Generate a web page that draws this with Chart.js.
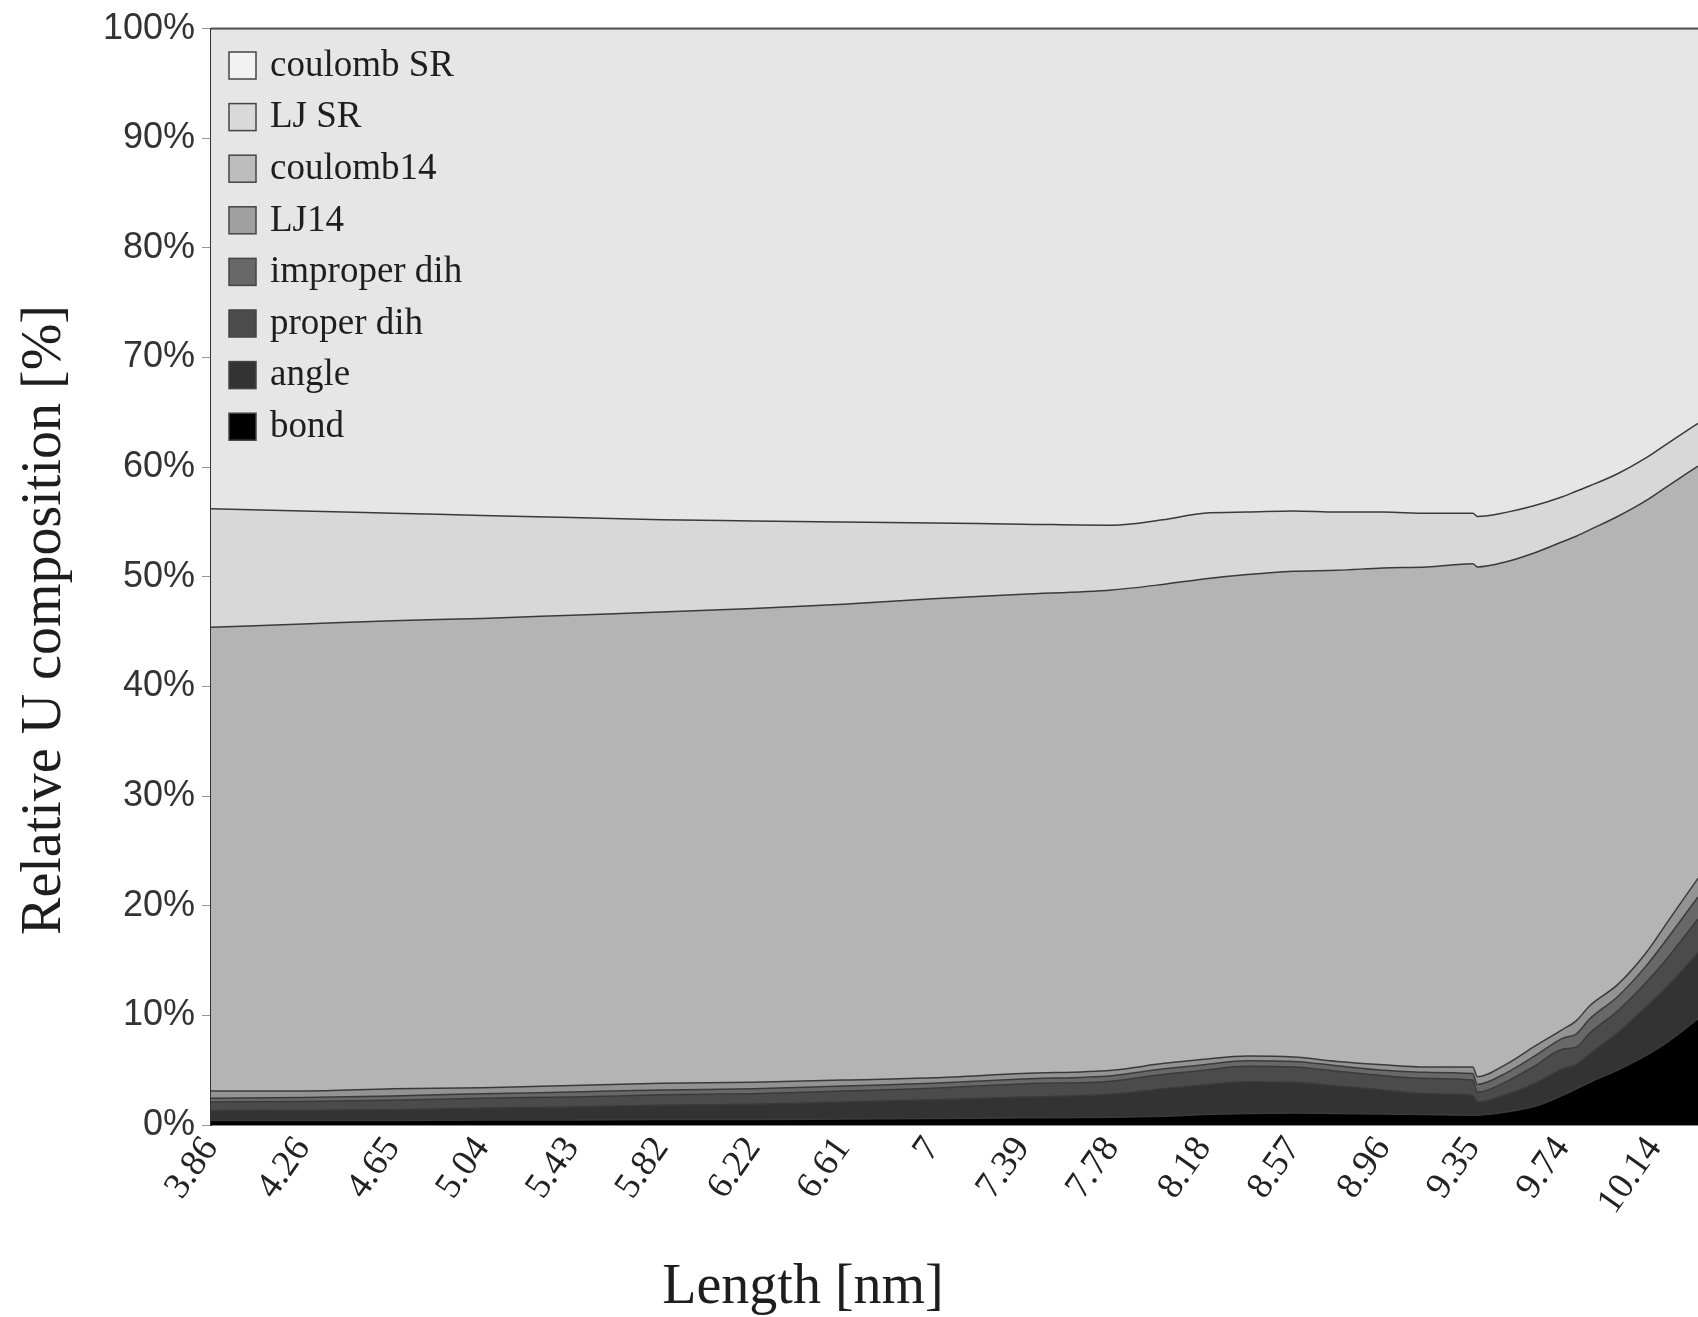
<!DOCTYPE html>
<html><head><meta charset="utf-8">
<script src="https://cdn.jsdelivr.net/npm/chart.js@4/dist/chart.umd.min.js"></script>
<style>html,body{margin:0;padding:0;background:#fff;}canvas{display:block;}</style>
</head><body>
<canvas id="c" width="1698" height="1317"></canvas>
<script>
// ---- data (percent of total potential energy) ----
const lengths    = [3.86, 4.26, 4.65, 5.04, 5.43, 5.82, 6.22, 6.61, 7.0, 7.39, 7.78, 8.0, 8.18, 8.37, 8.57, 8.76, 8.96, 9.15, 9.35, 9.37, 9.5, 9.62, 9.74, 9.8, 9.86, 9.98, 10.1, 10.2, 10.33];
const bond       = [0.4, 0.4, 0.4, 0.45, 0.45, 0.5, 0.5, 0.55, 0.6, 0.65, 0.7, 0.8, 0.95, 1.05, 1.1, 1.05, 1.0, 0.95, 0.9, 0.9, 1.2, 1.7, 2.7, 3.3, 3.9, 5.0, 6.3, 7.6, 9.7];
const angle      = [0.9, 0.95, 1.0, 1.1, 1.2, 1.3, 1.4, 1.55, 1.7, 1.9, 2.1, 2.5, 2.7, 2.9, 2.8, 2.5, 2.2, 1.9, 1.8, 1.2, 1.6, 2.1, 2.4, 2.2, 2.6, 3.4, 4.4, 5.1, 6.0];
const properDih  = [0.8, 0.8, 0.85, 0.9, 0.9, 0.95, 0.95, 1.0, 1.05, 1.2, 1.2, 1.3, 1.35, 1.4, 1.4, 1.35, 1.3, 1.4, 1.4, 0.9, 1.2, 1.6, 1.8, 1.6, 1.9, 2.0, 2.2, 2.6, 3.1];
const improperDih= [0.35, 0.35, 0.4, 0.4, 0.45, 0.45, 0.45, 0.45, 0.45, 0.45, 0.5, 0.5, 0.5, 0.5, 0.5, 0.5, 0.5, 0.55, 0.6, 0.7, 0.8, 0.9, 1.0, 1.2, 1.3, 1.3, 1.5, 1.8, 2.0];
const lj14       = [0.65, 0.6, 0.65, 0.55, 0.6, 0.6, 0.6, 0.55, 0.5, 0.5, 0.5, 0.5, 0.5, 0.45, 0.4, 0.4, 0.5, 0.5, 0.6, 0.7, 0.8, 0.9, 0.8, 1.2, 1.2, 1.1, 1.2, 1.5, 1.7];
const coulomb14  = [42.3, 42.6, 42.7, 42.8, 42.9, 43.0, 43.2, 43.4, 43.7, 43.7, 43.8, 43.7, 43.8, 43.9, 44.3, 44.8, 45.3, 45.6, 45.9, 46.5, 45.8, 45.0, 44.5, 44.2, 43.4, 42.7, 41.3, 39.7, 37.6];
const ljSR       = [10.8, 10.3, 9.8, 9.4, 8.9, 8.4, 8.0, 7.5, 6.9, 6.4, 5.9, 5.9, 6.0, 5.7, 5.5, 5.3, 5.1, 4.9, 4.6, 4.6, 4.5, 4.3, 4.1, 4.1, 4.0, 3.9, 3.9, 3.9, 3.9];
const coulombSR  = [43.8, 44.0, 44.2, 44.4, 44.6, 44.8, 44.9, 45.0, 45.1, 45.2, 45.3, 44.8, 44.2, 44.1, 44.0, 44.1, 44.1, 44.2, 44.2, 44.5, 44.1, 43.5, 42.7, 42.2, 41.7, 40.6, 39.2, 37.8, 36.0];

const seriesNames = ['bond', 'angle', 'proper dih', 'improper dih', 'LJ14', 'coulomb14', 'LJ SR', 'coulomb SR'];
const seriesValues = [bond, angle, properDih, improperDih, lj14, coulomb14, ljSR, coulombSR];

const xTickValues = [3.86, 4.26, 4.65, 5.04, 5.43, 5.82, 6.22, 6.61, 7, 7.39, 7.78, 8.18, 8.57, 8.96, 9.35, 9.74, 10.14];
const xTickLabels = ['3.86', '4.26', '4.65', '5.04', '5.43', '5.82', '6.22', '6.61', '7', '7.39', '7.78', '8.18', '8.57', '8.96', '9.35', '9.74', '10.14'];
const yTickValues = [0, 10, 20, 30, 40, 50, 60, 70, 80, 90, 100];

const xTitle = 'Length [nm]';
const yTitle = 'Relative U composition [%]';

// ---- styles ----
const fills = ['#000000', '#333333', '#4b4b4b', '#686868', '#939393', '#b4b4b4', '#d8d8d8', '#e6e6e6'];
const swatchFills = ['#000000', '#333333', '#4b4b4b', '#686868', '#a0a0a0', '#bdbdbd', '#d9d9d9', '#f2f2f2'];

const datasets = seriesNames.map((name, k) => ({
  label: name,
  data: lengths.map((x, i) => ({x: x, y: seriesValues[k][i]})),
  backgroundColor: fills[k],
  borderColor: '#3a3a3a',
  borderWidth: 1.5,
  pointRadius: 0,
  fill: k === 0 ? 'origin' : '-1',
  cubicInterpolationMode: 'monotone'
}));

const decor = {
  id: 'decor',
  afterDraw(chart) {
    const ctx = chart.ctx;
    const a = chart.chartArea;
    ctx.save();
    // top frame
    ctx.strokeStyle = '#555';
    ctx.lineWidth = 2;
    ctx.beginPath();
    ctx.moveTo(a.left, a.top);
    ctx.lineTo(a.right, a.top);
    ctx.stroke();
    // legend (reverse order)
    ctx.font = '37px "Liberation Serif", "Times New Roman", serif';
    ctx.textBaseline = 'middle';
    ctx.textAlign = 'left';
    const n = seriesNames.length;
    for (let j = 0; j < n; j++) {
      const k = n - 1 - j;
      const y = 52 + j * 51.6;
      ctx.fillStyle = swatchFills[k];
      ctx.fillRect(229, y, 27, 27);
      ctx.strokeStyle = '#444';
      ctx.lineWidth = 1.5;
      ctx.strokeRect(229, y, 27, 27);
      ctx.fillStyle = '#1e1e1e';
      ctx.fillText(seriesNames[k], 270, y + 14);
    }
    // axis titles
    ctx.fillStyle = '#1e1e1e';
    ctx.font = '56px "Liberation Serif", "Times New Roman", serif';
    ctx.textAlign = 'center';
    ctx.textBaseline = 'middle';
    ctx.fillText(xTitle, 803, 1288);
    ctx.translate(45, 620);
    ctx.rotate(-Math.PI / 2);
    ctx.fillText(yTitle, 0, 0);
    ctx.restore();
  }
};

new Chart(document.getElementById('c'), {
  type: 'line',
  data: {datasets},
  plugins: [decor],
  options: {
    responsive: false,
    animation: false,
    events: [],
    layout: {padding: {top: 28, right: 0, bottom: 0, left: 0}},
    plugins: {legend: {display: false}, tooltip: {enabled: false}},
    scales: {
      x: {
        type: 'linear',
        min: 3.86,
        max: 10.33,
        afterBuildTicks: s => { s.ticks = xTickValues.map(v => ({value: v})); },
        afterFit: s => { s.height = 192; },
        ticks: {
          autoSkip: false,
          minRotation: 55,
          maxRotation: 55,
          padding: 4,
          color: '#222',
          font: {family: '"Liberation Serif", "Times New Roman", serif', size: 37},
          callback: (v, i) => xTickLabels[i]
        },
        grid: {display: false, drawTicks: false},
        border: {display: true, color: '#888', width: 2}
      },
      y: {
        stacked: true,
        min: 0,
        max: 100,
        afterBuildTicks: s => { s.ticks = yTickValues.map(v => ({value: v})); },
        afterFit: s => { s.width = 211; },
        ticks: {
          padding: 7,
          color: '#333',
          font: {family: '"Liberation Sans", Arial, sans-serif', size: 36},
          callback: v => v + '%'
        },
        grid: {drawOnChartArea: false, drawTicks: true, tickLength: 9, color: '#999'},
        border: {display: true, color: '#333', width: 2}
      }
    }
  }
});
</script>
</body></html>
